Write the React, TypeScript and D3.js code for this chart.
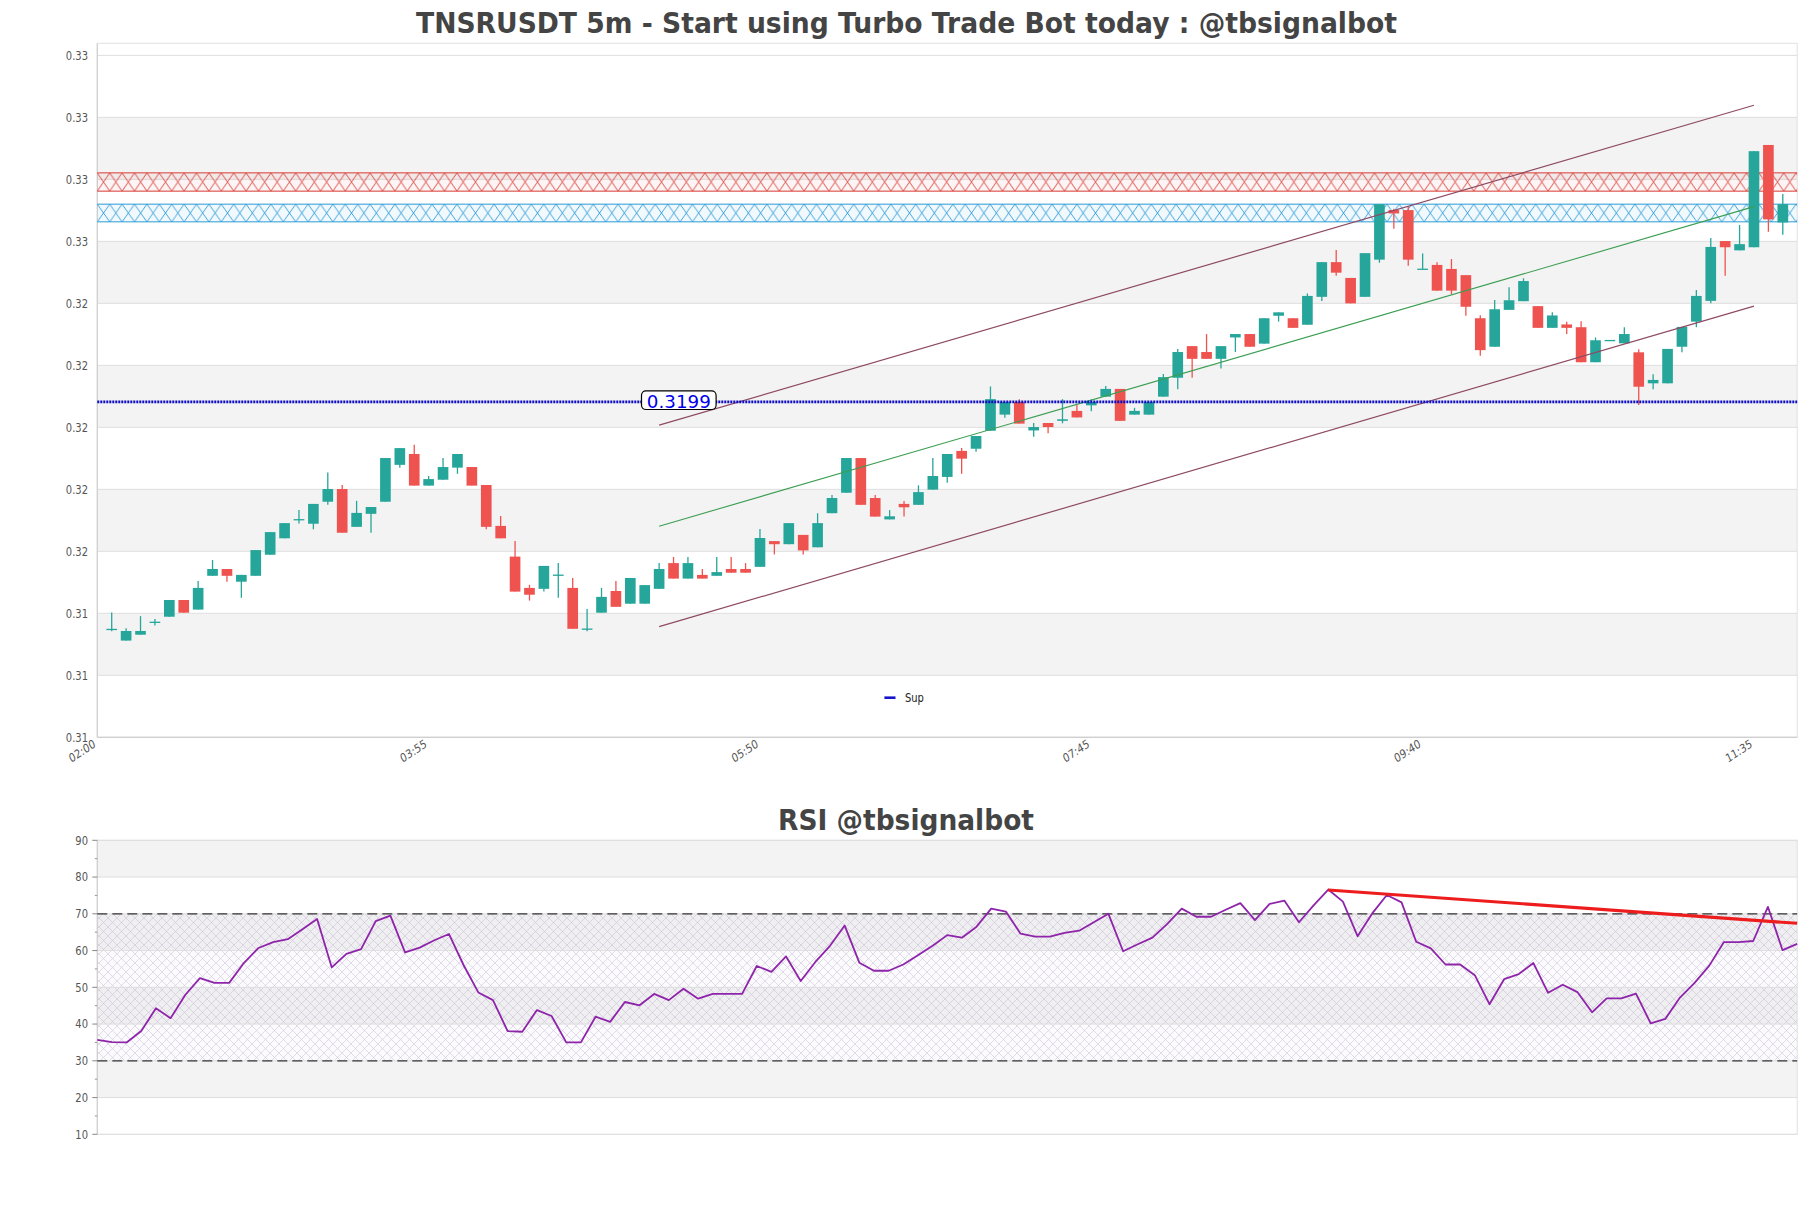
import React from 'react';
import * as d3 from 'd3';

// ---------- DATA ----------
const candleOpen = [
  0.31259, 0.31222, 0.31241, 0.31282, 0.31299, 0.31353, 0.31322, 0.31431, 0.31453, 0.31412,
  0.31431, 0.31499, 0.31552, 0.31613, 0.31599, 0.31670, 0.31711, 0.31589, 0.31631, 0.31670,
  0.31789, 0.31824, 0.31722, 0.31741, 0.31780, 0.31782, 0.31724, 0.31592, 0.31493, 0.31392,
  0.31389, 0.31434, 0.31392, 0.31260, 0.31312, 0.31382, 0.31341, 0.31341, 0.31389, 0.31472,
  0.31422, 0.31434, 0.31431, 0.31453, 0.31453, 0.31460, 0.31543, 0.31533, 0.31563, 0.31523,
  0.31633, 0.31699, 0.31811, 0.31682, 0.31613, 0.31663, 0.31660, 0.31709, 0.31750, 0.31834,
  0.31841, 0.31899, 0.31951, 0.31992, 0.31900, 0.31924, 0.31931, 0.31963, 0.31981, 0.32009,
  0.32034, 0.31951, 0.31951, 0.32009, 0.32070, 0.32172, 0.32153, 0.32131, 0.32200, 0.32211,
  0.32180, 0.32270, 0.32262, 0.32241, 0.32331, 0.32443, 0.32392, 0.32331, 0.32451, 0.32611,
  0.32611, 0.32421, 0.32434, 0.32421, 0.32401, 0.32262, 0.32170, 0.32289, 0.32317, 0.32301,
  0.32231, 0.32242, 0.32233, 0.32120, 0.32191, 0.32181, 0.32152, 0.32052, 0.32052, 0.32170,
  0.32251, 0.32318, 0.32511, 0.32481, 0.32491, 0.32821, 0.32571,
];
const candleHigh = [
  0.31313, 0.31262, 0.31301, 0.31292, 0.31353, 0.31353, 0.31414, 0.31482, 0.31453, 0.31434,
  0.31514, 0.31572, 0.31601, 0.31643, 0.31663, 0.31764, 0.31724, 0.31673, 0.31653, 0.31811,
  0.31843, 0.31854, 0.31753, 0.31811, 0.31824, 0.31782, 0.31724, 0.31624, 0.31543, 0.31402,
  0.31463, 0.31472, 0.31424, 0.31324, 0.31392, 0.31414, 0.31424, 0.31401, 0.31472, 0.31492,
  0.31492, 0.31453, 0.31492, 0.31492, 0.31472, 0.31582, 0.31543, 0.31601, 0.31563, 0.31633,
  0.31692, 0.31811, 0.31811, 0.31692, 0.31643, 0.31672, 0.31723, 0.31811, 0.31824, 0.31843,
  0.31882, 0.32042, 0.31992, 0.32001, 0.31924, 0.31924, 0.32001, 0.31982, 0.32001, 0.32043,
  0.32034, 0.31973, 0.31992, 0.32082, 0.32163, 0.32172, 0.32211, 0.32172, 0.32211, 0.32211,
  0.32262, 0.32281, 0.32262, 0.32342, 0.32443, 0.32482, 0.32392, 0.32472, 0.32630, 0.32615,
  0.32622, 0.32471, 0.32443, 0.32453, 0.32401, 0.32272, 0.32321, 0.32362, 0.32391, 0.32301,
  0.32281, 0.32251, 0.32252, 0.32200, 0.32192, 0.32233, 0.32162, 0.32081, 0.32163, 0.32234,
  0.32353, 0.32521, 0.32511, 0.32563, 0.32801, 0.32821, 0.32663,
];
const candleLow = [
  0.31252, 0.31222, 0.31241, 0.31271, 0.31299, 0.31312, 0.31322, 0.31431, 0.31412, 0.31360,
  0.31431, 0.31499, 0.31552, 0.31600, 0.31581, 0.31660, 0.31570, 0.31589, 0.31570, 0.31670,
  0.31780, 0.31722, 0.31722, 0.31741, 0.31760, 0.31722, 0.31581, 0.31552, 0.31380, 0.31351,
  0.31380, 0.31360, 0.31260, 0.31252, 0.31312, 0.31331, 0.31341, 0.31341, 0.31389, 0.31422,
  0.31422, 0.31422, 0.31431, 0.31441, 0.31441, 0.31460, 0.31500, 0.31533, 0.31500, 0.31523,
  0.31633, 0.31699, 0.31660, 0.31622, 0.31613, 0.31622, 0.31660, 0.31709, 0.31731, 0.31760,
  0.31831, 0.31899, 0.31941, 0.31922, 0.31880, 0.31891, 0.31923, 0.31942, 0.31962, 0.32009,
  0.31931, 0.31951, 0.31951, 0.32009, 0.32033, 0.32070, 0.32131, 0.32100, 0.32153, 0.32170,
  0.32180, 0.32251, 0.32231, 0.32241, 0.32318, 0.32399, 0.32310, 0.32331, 0.32441, 0.32551,
  0.32431, 0.32421, 0.32351, 0.32340, 0.32270, 0.32141, 0.32170, 0.32289, 0.32317, 0.32231,
  0.32231, 0.32211, 0.32120, 0.32120, 0.32191, 0.32181, 0.31982, 0.32033, 0.32052, 0.32152,
  0.32233, 0.32310, 0.32399, 0.32481, 0.32491, 0.32541, 0.32531,
];
const candleClose = [
  0.31260, 0.31253, 0.31253, 0.31283, 0.31353, 0.31312, 0.31392, 0.31453, 0.31431, 0.31434,
  0.31514, 0.31572, 0.31601, 0.31614, 0.31663, 0.31711, 0.31570, 0.31634, 0.31653, 0.31811,
  0.31843, 0.31722, 0.31743, 0.31782, 0.31824, 0.31722, 0.31589, 0.31552, 0.31380, 0.31370,
  0.31463, 0.31435, 0.31260, 0.31261, 0.31363, 0.31331, 0.31424, 0.31401, 0.31453, 0.31422,
  0.31472, 0.31422, 0.31443, 0.31441, 0.31441, 0.31553, 0.31533, 0.31601, 0.31513, 0.31601,
  0.31682, 0.31811, 0.31660, 0.31622, 0.31623, 0.31652, 0.31701, 0.31753, 0.31824, 0.31809,
  0.31882, 0.32001, 0.31992, 0.31922, 0.31911, 0.31911, 0.31936, 0.31942, 0.31992, 0.32034,
  0.31931, 0.31963, 0.31992, 0.32072, 0.32153, 0.32131, 0.32131, 0.32172, 0.32211, 0.32170,
  0.32262, 0.32281, 0.32231, 0.32334, 0.32443, 0.32409, 0.32310, 0.32472, 0.32630, 0.32600,
  0.32451, 0.32422, 0.32351, 0.32351, 0.32299, 0.32159, 0.32291, 0.32320, 0.32382, 0.32231,
  0.32271, 0.32231, 0.32120, 0.32191, 0.32192, 0.32211, 0.32041, 0.32063, 0.32163, 0.32234,
  0.32334, 0.32492, 0.32491, 0.32501, 0.32801, 0.32581, 0.32630,
];

const xTickLabels = ['02:00', '03:55', '05:50', '07:45', '09:40', '11:35'];
const xTickIndex = [-1, 22, 45, 68, 91, 114];
const priceTicks = [0.3091, 0.3111, 0.3131, 0.3151, 0.3171, 0.3191, 0.3211, 0.3231, 0.3251, 0.3271, 0.3291, 0.3311];

const supportLevel = 0.31992;
const resistanceZone = [0.32672, 0.32731];
const demandZone = [0.32573, 0.3263];

const channelIndex = [38, 114];
const channelUpper = [0.31917, 0.32949];
const channelMid = [0.31591, 0.32622];
const channelLower = [0.31267, 0.32301];

const rsiValues = [
  35.7, 35.1, 35.0, 38.1, 44.3, 41.6, 47.9, 52.5, 51.2, 51.2,
  56.6, 60.7, 62.3, 63.1, 65.8, 68.6, 55.4, 59.1, 60.4, 68.0,
  69.5, 59.5, 60.8, 62.8, 64.5, 56.0, 48.6, 46.5, 38.1, 37.9,
  43.8, 42.2, 35.0, 35.0, 42.0, 40.6, 46.0, 45.1, 48.2, 46.5,
  49.6, 46.9, 48.2, 48.2, 48.2, 55.8, 54.2, 58.4, 51.7, 56.9,
  61.3, 66.8, 56.7, 54.5, 54.5, 56.2, 58.7, 61.3, 64.2, 63.5,
  66.5, 71.4, 70.6, 64.6, 63.8, 63.8, 64.8, 65.4, 67.7, 70.0,
  59.8, 61.7, 63.5, 67.2, 71.4, 69.2, 69.2, 71.1, 72.9, 68.3,
  72.7, 73.6, 67.7, 72.3, 76.6, 73.3, 63.9, 70.1, 75.1, 73.1,
  62.4, 60.6, 56.2, 56.2, 53.3, 45.4, 52.2, 53.6, 56.6, 48.5,
  50.7, 48.7, 43.2, 47.0, 47.0, 48.3, 40.2, 41.4, 47.2, 51.2,
  55.9, 62.3, 62.3, 62.6, 71.9, 60.1, 61.8,
];
const rsiTicks = [10, 20, 30, 40, 50, 60, 70, 80, 90];
const rsiMinorTicks = [15, 25, 35, 45, 55, 65, 75, 85];
const rsiLevels = [30, 70];
const rsiTrendIndex = [84, 116];
const rsiTrendValue = [76.5, 67.4];

// ---------- LAYOUT ----------
const W = 1811;
const H = 1208;
const PL = 97.3;
const PR = 1797.2;
const MT = 43.3;
const MB = 737.3;
const RT = 840.3;
const RB = 1134.3;
const SX = 0.83;
const GREEN = '#26a69a';
const RED = '#ef5350';
const FONT = 'DejaVu Sans, sans-serif';

export default function App() {
  const x = d3.scaleLinear().domain([-1, 117]).range([PL, PR]);
  const y = d3.scaleLinear().domain([0.3091, 0.33149]).range([MB, MT]);
  const rx = d3.scaleLinear().domain([0, rsiValues.length - 1]).range([PL, PR]);
  const ry = d3.scaleLinear().domain([10, 90]).range([RB, RT]);

  const step = x(1) - x(0);
  const bodyW = step * 0.74;

  const rsiLine = d3.line<number>().x((_, i) => rx(i)).y((d) => ry(d))(rsiValues) || '';
  const fmt2 = d3.format('.2f');
  const fmt4 = d3.format('.4f');

  const zone = (z: number[], color: string, id: string, fill: string) => {
    const top = y(z[1]);
    const bot = y(z[0]);
    const h = bot - top;
    return (
      <g key={id}>
        <defs>
          <pattern id={id} patternUnits="userSpaceOnUse" x={PL} y={top} width={12.4} height={h}>
            <path d={`M0,0L12.4,${h}M12.4,0L0,${h}`} stroke={color} strokeWidth={0.9} fill="none" />
          </pattern>
        </defs>
        <rect x={PL} y={top} width={PR - PL} height={h} fill={fill} />
        <rect x={PL} y={top} width={PR - PL} height={h} fill={`url(#${id})`} />
        <line x1={PL} x2={PR} y1={top} y2={top} stroke={color} strokeWidth={1} />
        <line x1={PL} x2={PR} y1={bot} y2={bot} stroke={color} strokeWidth={1} />
      </g>
    );
  };

  const supY = y(supportLevel);
  const labelCx = 678.8;

  return (
    <svg width={W} height={H} style={{ position: 'absolute', left: 0, top: 0, background: '#fff' }} fontFamily={FONT}>
      <defs>
        <pattern id="rsiHatch" patternUnits="userSpaceOnUse" width={9} height={9}>
          <path d="M0,0L9,9M9,0L0,9" stroke="#b8a8c8" strokeWidth={0.55} fill="none" />
        </pattern>
      </defs>

      {/* ---------------- MAIN TITLE ---------------- */}
      <text x={906.5} y={32.5} textAnchor="middle" fontSize={28} fontWeight="bold" fill="#444"
        textLength={981} lengthAdjust="spacingAndGlyphs">
        TNSRUSDT 5m - Start using Turbo Trade Bot today : @tbsignalbot
      </text>

      {/* ---------------- MAIN PANEL ---------------- */}
      <rect x={PL} y={MT} width={PR - PL} height={MB - MT} fill="#fff" />
      {priceTicks.slice(0, -1).map((t, k) =>
        k % 2 === 1 ? (
          <rect key={'b' + k} x={PL} y={y(priceTicks[k + 1])} width={PR - PL}
            height={y(t) - y(priceTicks[k + 1])} fill="#f3f3f3" />
        ) : null
      )}
      {priceTicks.map((t, k) => (
        <line key={'g' + k} x1={PL} x2={PR} y1={y(t)} y2={y(t)} stroke="#dedede" strokeWidth={1} />
      ))}
      <rect x={PL} y={MT} width={PR - PL} height={MB - MT} fill="none" stroke="#e2e2e2" strokeWidth={1} />
      <line x1={PL} x2={PL} y1={MT} y2={MB} stroke="#cfcfcf" strokeWidth={1.2} />
      <line x1={PL} x2={PR} y1={MB} y2={MB} stroke="#cfcfcf" strokeWidth={1.2} />

      {priceTicks.map((t, k) => (
        <text key={'yl' + k} transform={`translate(88,${y(t) + 4.2}) scale(${SX},1)`} textAnchor="end"
          fontSize={12} fill="#555">
          {fmt2(t)}
        </text>
      ))}
      {xTickIndex.map((i, k) => (
        <text key={'xl' + k} transform={`translate(${x(i) - 1},${MB + 9}) scale(${SX},1) rotate(-29)`}
          textAnchor="end" fontSize={12} fill="#555">
          {xTickLabels[k]}
        </text>
      ))}

      {zone(resistanceZone, '#d93a32', 'hatchRed', 'rgba(217,58,50,0.05)')}
      {zone(demandZone, '#2a9ad8', 'hatchBlue', 'rgba(42,154,216,0.06)')}

      {/* candles */}
      {candleOpen.map((o, i) => {
        const c = candleClose[i];
        const up = c >= o;
        const col = up ? GREEN : RED;
        const top = y(Math.max(o, c));
        const bh = Math.max(Math.abs(y(o) - y(c)), 1.3);
        return (
          <g key={'c' + i}>
            <line x1={x(i)} x2={x(i)} y1={y(candleHigh[i])} y2={y(candleLow[i])} stroke={col} strokeWidth={1.3} />
            <rect x={x(i) - bodyW / 2} y={top} width={bodyW} height={bh} fill={col} />
          </g>
        );
      })}

      {/* channel */}
      <line x1={x(channelIndex[0])} x2={x(channelIndex[1])} y1={y(channelUpper[0])} y2={y(channelUpper[1])}
        stroke="#8e4a64" strokeWidth={1.2} />
      <line x1={x(channelIndex[0])} x2={x(channelIndex[1])} y1={y(channelMid[0])} y2={y(channelMid[1])}
        stroke="#3c9e52" strokeWidth={1.1} />
      <line x1={x(channelIndex[0])} x2={x(channelIndex[1])} y1={y(channelLower[0])} y2={y(channelLower[1])}
        stroke="#8e4a64" strokeWidth={1.2} />

      {/* support */}
      <line x1={PL} x2={PR} y1={supY} y2={supY} stroke="#0c0cc4" strokeWidth={2.8} strokeDasharray="2,1" />
      <rect x={labelCx - 37.3} y={supY - 11} width={74.6} height={18.6} rx={4.5} fill="#fff" stroke="#000" strokeWidth={1.2} />
      <text x={labelCx} y={supY + 5.6} textAnchor="middle" fontSize={18.5} fill="#0000ee"
        textLength={64} lengthAdjust="spacingAndGlyphs">
        {fmt4(supportLevel)}
      </text>

      {/* legend */}
      <line x1={884.4} x2={895.5} y1={697.7} y2={697.7} stroke="#1515cc" strokeWidth={2.6} />
      <text transform={`translate(905,701.8) scale(${SX},1)`} fontSize={12} fill="#222">Sup</text>

      {/* ---------------- RSI TITLE ---------------- */}
      <text x={906} y={830} textAnchor="middle" fontSize={28} fontWeight="bold" fill="#444"
        textLength={256} lengthAdjust="spacingAndGlyphs">
        RSI @tbsignalbot
      </text>

      {/* ---------------- RSI PANEL ---------------- */}
      <rect x={PL} y={RT} width={PR - PL} height={RB - RT} fill="#fff" />
      {rsiTicks.slice(0, -1).map((t, k) =>
        k % 2 === 1 ? (
          <rect key={'rb' + k} x={PL} y={ry(rsiTicks[k + 1])} width={PR - PL}
            height={ry(t) - ry(rsiTicks[k + 1])} fill="#f3f3f3" />
        ) : null
      )}
      <rect x={PL} y={ry(rsiLevels[1])} width={PR - PL} height={ry(rsiLevels[0]) - ry(rsiLevels[1])}
        fill="rgba(150,110,190,0.035)" />
      <rect x={PL} y={ry(rsiLevels[1])} width={PR - PL} height={ry(rsiLevels[0]) - ry(rsiLevels[1])}
        fill="url(#rsiHatch)" opacity={0.7} />
      {rsiTicks.map((t, k) => (
        <line key={'rg' + k} x1={PL} x2={PR} y1={ry(t)} y2={ry(t)} stroke="#dedede" strokeWidth={1} />
      ))}
      <rect x={PL} y={RT} width={PR - PL} height={RB - RT} fill="none" stroke="#e0e0e0" strokeWidth={1} />
      <line x1={PL} x2={PL} y1={RT} y2={RB} stroke="#cfcfcf" strokeWidth={1.2} />
      {rsiTicks.map((t, k) => (
        <g key={'rt' + k}>
          <line x1={PL - 5} x2={PL} y1={ry(t)} y2={ry(t)} stroke="#888" strokeWidth={1} />
          <text transform={`translate(88,${ry(t) + 4.2}) scale(${SX},1)`} textAnchor="end" fontSize={12} fill="#555">
            {t}
          </text>
        </g>
      ))}
      {rsiMinorTicks.map((t, k) => (
        <line key={'rm' + k} x1={PL - 2.5} x2={PL} y1={ry(t)} y2={ry(t)} stroke="#999" strokeWidth={1} />
      ))}
      {rsiLevels.map((l, k) => (
        <line key={'lv' + k} x1={PL} x2={PR} y1={ry(l)} y2={ry(l)} stroke="#333" strokeWidth={1.2}
          strokeDasharray="10,5" />
      ))}
      <path d={rsiLine} fill="none" stroke="#8e24aa" strokeWidth={1.8} strokeLinejoin="round" />
      <line x1={rx(rsiTrendIndex[0])} x2={rx(rsiTrendIndex[1])} y1={ry(rsiTrendValue[0])} y2={ry(rsiTrendValue[1])}
        stroke="#ee1d1d" strokeWidth={3} />
    </svg>
  );
}
